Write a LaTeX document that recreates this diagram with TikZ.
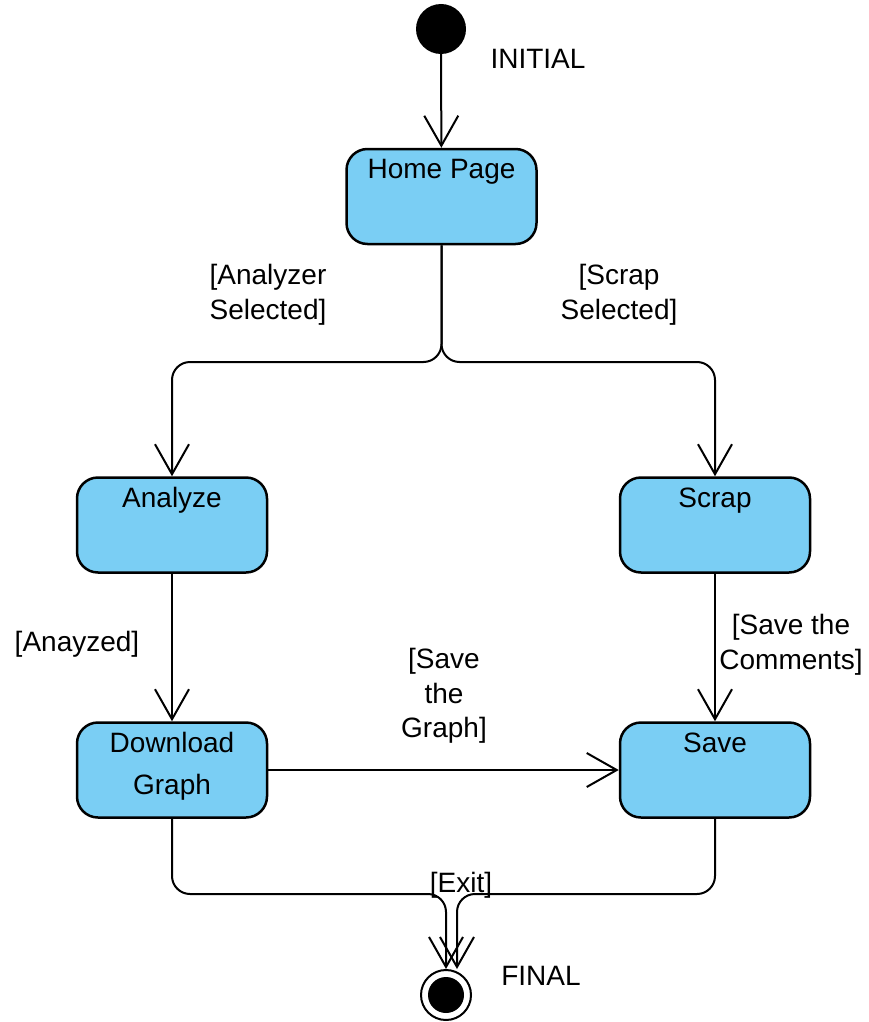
\documentclass[tikz,border=0pt]{standalone}
\usepackage{fontspec}
\setmainfont{Liberation Sans}
\usetikzlibrary{arrows.meta,calc}
\definecolor{statefill}{RGB}{122,206,244}
\begin{document}
\begin{tikzpicture}[x=1pt,y=-1pt,
  state/.style={draw=black, line width=2.5pt, fill=statefill, rounded corners=21pt,
    minimum width=190pt, minimum height=95pt, inner sep=0pt},
  lbl/.style={font=\fontsize{28}{34.5}\selectfont, align=center, inner sep=0pt},
  boxtext/.style={font=\fontsize{28}{42}\selectfont, align=center, inner sep=0pt, anchor=north},
  flow/.style={line width=2pt, -{Straight Barb[length=30pt,width=34pt]}},
]
\useasboundingbox (0,0) rectangle (869,1022);

% start and end states
\node[circle, fill=black, minimum size=50pt, inner sep=0pt] (init) at (441,29) {};
\node[circle, draw=black, line width=2pt, fill=white, minimum size=50pt, inner sep=0pt] (final) at (446,995) {};
\fill[black] (final.center) circle[radius=18pt];

% activity states
\node[state] (home)     at (441.5,196.5) {};
\node[state] (analyze)  at (172,525) {};
\node[state] (scrap)    at (715,525) {};
\node[state] (download) at (172,770) {};
\node[state] (save)     at (715,770) {};

\node[boxtext] at ($(home.north)+(0,11)$) {Home Page};
\node[boxtext] at ($(analyze.north)+(0,11)$) {Analyze};
\node[boxtext] at ($(scrap.north)+(0,11)$) {Scrap};
\node[boxtext] at ($(download.north)+(0,11)$) {Download\\Graph};
\node[boxtext] at ($(save.north)+(0,11)$) {Save};

% transitions
\coordinate (split) at (441.5,362);
\coordinate (mergeL) at (446,894);
\coordinate (mergeR) at (457,894);

\draw[flow] (init) -- (home);
\draw[flow, rounded corners=18pt] (home.south) -- (split) -| (analyze.north);
\draw[flow, rounded corners=18pt] (home.south) -- (split) -| (scrap.north);
\draw[flow] (analyze) -- (download);
\draw[flow] (scrap) -- (save);
\draw[flow] (download) -- (save);
\draw[flow, rounded corners=18pt] (download.south) |- (mergeL) -- (final.north);
\draw[flow, rounded corners=18pt] (save.south) |- (mergeR) -- (mergeR |- final.north);

% guard labels
\node[lbl, anchor=north] at (268,264.5) {[Analyzer\\Selected]};
\node[lbl, anchor=north] at (619,264.5) {[Scrap\\Selected]};
\node[lbl, anchor=base]  at (77,651) {[Anayzed]};
\node[lbl, anchor=north] at (791,614.5) {[Save the\\Comments]};
\node[lbl, anchor=north] at (444,648.5) {[Save\\the\\Graph]};
\node[lbl, anchor=base]  at (461,892) {[Exit]};
\node[lbl, anchor=base]  at (538,69) {INITIAL};
\node[lbl, anchor=base]  at (541,985) {FINAL};
\end{tikzpicture}
\end{document}
